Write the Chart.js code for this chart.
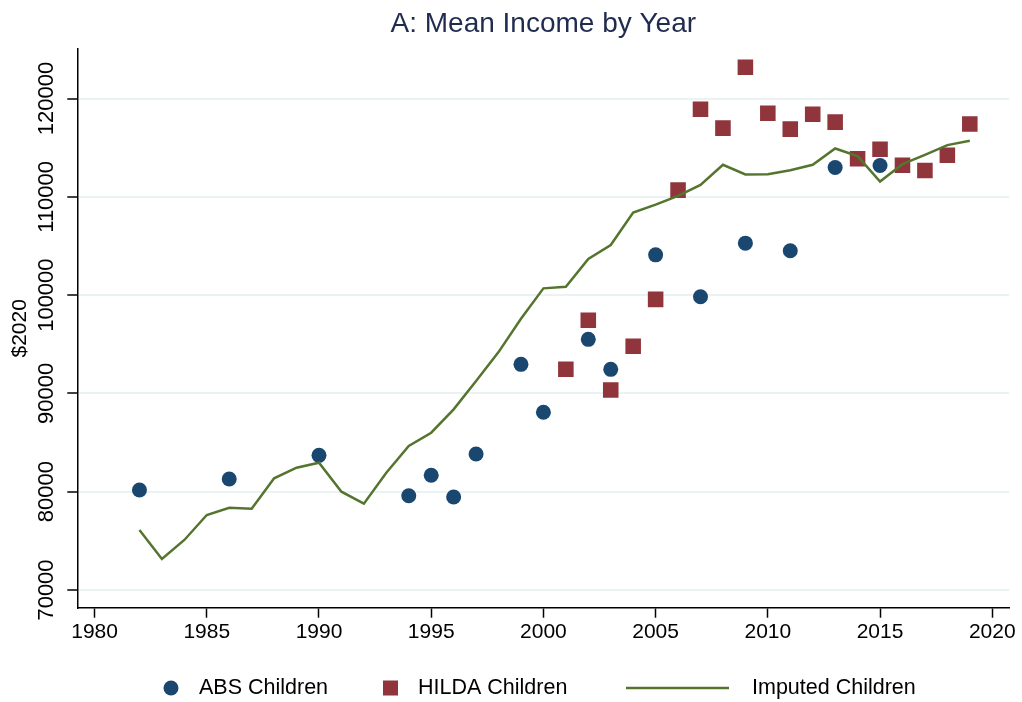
<!DOCTYPE html>
<html>
<head>
<meta charset="utf-8">
<script src="https://cdn.jsdelivr.net/npm/chart.js@4"></script>
<style>
  html, body { margin: 0; padding: 0; background: #fff; }
  #wrap { width: 1022px; height: 702px; }
</style>
</head>
<body>
<div id="wrap"><canvas id="incomeChart" width="1022" height="702"></canvas></div>
<script>
// Mean income ($2020) by year
const absYears = [1982, 1986, 1990, 1994, 1995, 1996, 1997, 1999, 2000, 2002, 2003, 2005, 2007, 2009, 2011, 2013, 2015];
const absIncome = [80170, 81290, 83700, 79590, 81670, 79460, 83830, 92960, 88080, 95500, 92450, 104100, 99840, 105290, 104510, 112980, 113190];

const hildaYears = [2001, 2002, 2003, 2004, 2005, 2006, 2007, 2008, 2009, 2010, 2011, 2012, 2013, 2014, 2015, 2016, 2017, 2018, 2019];
const hildaIncome = [92450, 97440, 90350, 94790, 99570, 110680, 118920, 116990, 123190, 118510, 116890, 118410, 117600, 113870, 114850, 113220, 112680, 114240, 117400];

const imputedYears = [1982, 1983, 1984, 1985, 1986, 1987, 1988, 1989, 1990, 1991, 1992, 1993, 1994, 1995, 1996, 1997, 1998, 1999, 2000,
  2001, 2002, 2003, 2004, 2005, 2006, 2007, 2008, 2009, 2010, 2011, 2012, 2013, 2014, 2015, 2016, 2017, 2018, 2019];
const imputedIncome = [76100, 73150, 75090, 77630, 78370, 78270, 81360, 82440, 82950, 80000, 78780, 81930, 84650, 86000, 88380, 91260, 94200, 97600, 100690,
  100860, 103670, 105100, 108390, 109200, 110100, 111220, 113260, 112270, 112310, 112710, 113260, 114920, 114140, 111560, 113320, 114270, 115260, 115700];

const chartTitle = "A: Mean Income by Year";
const seriesNames = ["ABS Children", "HILDA Children", "Imputed Children"];
const xTicks = [1980, 1985, 1990, 1995, 2000, 2005, 2010, 2015, 2020];
const yTicks = [70000, 80000, 90000, 100000, 110000, 120000];

const navy = "#1a476f";
const maroon = "#90353b";
const green = "#55752f";
const fontFam = "'Liberation Sans', Arial, Helvetica, sans-serif";

function toPoints(xs, ys) {
  return xs.map((x, i) => ({ x: x, y: ys[i] }));
}

// title centred over the plot area, and the legend along the bottom
const titleAndLegend = {
  id: "titleAndLegend",
  afterDraw(chart) {
    const ctx = chart.ctx;
    const area = chart.chartArea;
    ctx.save();
    ctx.textBaseline = "middle";
    ctx.textAlign = "center";
    ctx.fillStyle = "#1f2c50";
    ctx.font = "28px " + fontFam;
    ctx.fillText(chartTitle, (area.left + area.right) / 2, 24.5);

    const y = 688;
    ctx.font = "21.5px " + fontFam;
    ctx.textAlign = "left";

    ctx.fillStyle = navy;
    ctx.beginPath();
    ctx.arc(171, y, 7.5, 0, Math.PI * 2);
    ctx.fill();
    ctx.fillStyle = "#000";
    ctx.fillText(seriesNames[0], 199, y);

    ctx.fillStyle = maroon;
    ctx.fillRect(383, y - 7.5, 15, 15);
    ctx.fillStyle = "#000";
    ctx.fillText(seriesNames[1], 418, y);

    ctx.strokeStyle = green;
    ctx.lineWidth = 2.5;
    ctx.beginPath();
    ctx.moveTo(626, y);
    ctx.lineTo(729, y);
    ctx.stroke();
    ctx.fillText(seriesNames[2], 752, y);
    ctx.restore();
  }
};

const ctx = document.getElementById("incomeChart").getContext("2d");
new Chart(ctx, {
  type: "scatter",
  data: {
    datasets: [
      {
        type: "line",
        label: seriesNames[2],
        data: toPoints(imputedYears, imputedIncome),
        borderColor: green,
        borderWidth: 2.5,
        pointRadius: 0,
        tension: 0,
        fill: false,
        order: 0
      },
      {
        label: seriesNames[1],
        data: toPoints(hildaYears, hildaIncome),
        pointStyle: "rect",
        pointRadius: 11,
        backgroundColor: maroon,
        borderWidth: 0,
        order: 1
      },
      {
        label: seriesNames[0],
        data: toPoints(absYears, absIncome),
        pointStyle: "circle",
        pointRadius: 7.5,
        backgroundColor: navy,
        borderWidth: 0,
        order: 2
      }
    ]
  },
  options: {
    responsive: false,
    animation: false,
    layout: { padding: { left: 0, right: 12.7, top: 49, bottom: 54.3 } },
    plugins: {
      legend: { display: false },
      tooltip: { enabled: false },
      title: { display: false }
    },
    scales: {
      x: {
        type: "linear",
        min: 1979.23,
        max: 2020.76,
        afterBuildTicks: s => { s.ticks = xTicks.map(v => ({ value: v })); },
        afterFit: s => { s.height = 40; },
        grid: { drawOnChartArea: false, drawTicks: true, tickLength: 10, tickColor: "#000", tickWidth: 1.5 },
        border: { display: true, color: "#000", width: 1.5 },
        ticks: {
          color: "#000",
          font: { family: fontFam, size: 21 },
          padding: 1.5,
          maxRotation: 0,
          minRotation: 0,
          callback: v => String(v)
        }
      },
      y: {
        min: 68200,
        max: 125040,
        afterBuildTicks: s => { s.ticks = yTicks.map(v => ({ value: v })); },
        afterFit: s => { s.width = 77.3; },
        grid: { color: "#eaf2f3", lineWidth: 2, drawTicks: true, tickLength: 10, tickColor: "#000", tickWidth: 1.5 },
        border: { display: true, color: "#000", width: 1.5 },
        ticks: {
          color: "#000",
          font: { family: fontFam, size: 22 },
          minRotation: 90,
          maxRotation: 90,
          crossAlign: "center",
          padding: -16,
          callback: v => String(v)
        },
        title: {
          display: true,
          text: "$2020",
          color: "#000",
          font: { family: fontFam, size: 21, lineHeight: 1.2 },
          padding: { top: 8, bottom: 0 }
        }
      }
    }
  },
  plugins: [titleAndLegend]
});
</script>
</body>
</html>
